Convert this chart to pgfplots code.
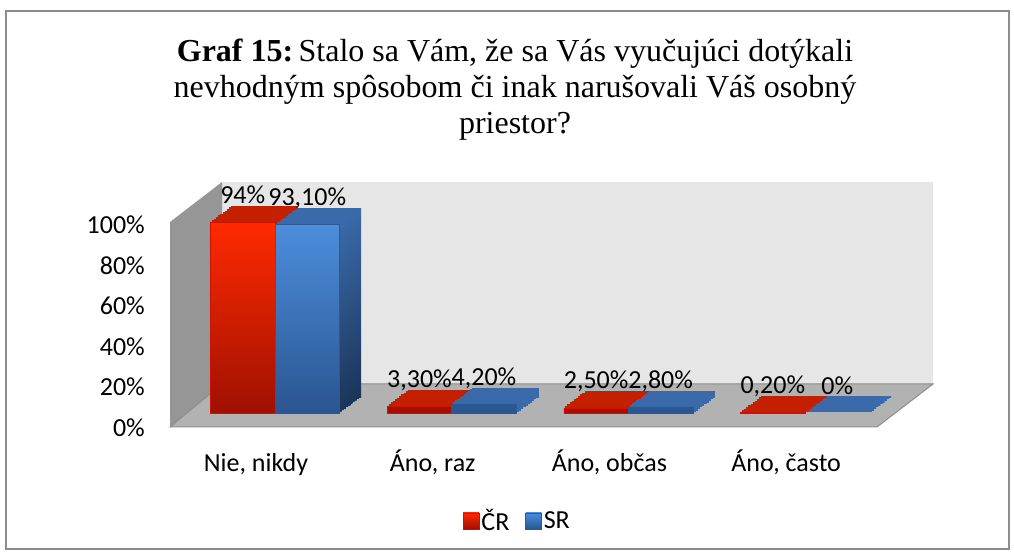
\documentclass[border=0pt]{standalone}
\usepackage{pgfplots}
\pgfplotsset{compat=1.18}
\usepackage{fontspec}
\setmainfont{Carlito}
\newfontfamily\titlefont{Liberation Serif}
\definecolor{redA}{HTML}{FF2A00}
\definecolor{redB}{HTML}{A01000}
\definecolor{redTop}{HTML}{C42000}
\definecolor{redEdge}{HTML}{D01000}
\definecolor{blueA}{HTML}{4C8EDC}
\definecolor{blueB}{HTML}{2A5590}
\definecolor{blueTop}{HTML}{3A6AAA}
\definecolor{blueSideB}{HTML}{1C3458}
\definecolor{blueEdge}{HTML}{2A5A96}
\definecolor{wallBack}{HTML}{E6E6E6}
\definecolor{wallLeft}{HTML}{969696}
\definecolor{floorC}{HTML}{B2B2B2}
\definecolor{edgeC}{HTML}{8C8C8C}
\pgfplotstableread{
x y
0 94
1 3.3
2 2.5
3 0.2
}\datacr
\pgfplotstableread{
x y
0 93.1
1 4.2
2 2.8
3 0
}\datasr
\begin{document}
\begin{tikzpicture}[x=1pt,y=1pt]
\useasboundingbox (0,0) rectangle (1014,554);
\draw[edgeC, line width=1.5pt] (6,543) rectangle (1009,5);
\node[anchor=base, inner sep=0pt, font=\titlefont\fontsize{32}{38}\selectfont] at (515,492) {\textbf{Graf 15:}\,Stalo sa Vám, že sa Vás vyučujúci dotýkali};
\node[anchor=base, inner sep=0pt, font=\titlefont\fontsize{32}{38}\selectfont] at (515,456) {nevhodným spôsobom či inak narušovali Váš osobný};
\node[anchor=base, inner sep=0pt, font=\titlefont\fontsize{32}{38}\selectfont] at (515,420) {priestor?};
% walls
\fill[wallBack] (222,372) rectangle (933,170);
\fill[wallLeft] (170,332) -- (222,372) -- (222,170) -- (170,127) -- cycle;
\filldraw[fill=floorC, draw=edgeC, line width=1pt] (170,127) -- (877,127) -- (933,170) -- (222,170) -- cycle;
% ticks and labels
\begin{axis}[at={(167.65pt,126.5pt)}, anchor=south west, scale only axis,
  width=706.8pt, height=202.5pt, xmin=-0.5, xmax=3.5, ymin=0, ymax=100,
  axis line style={draw=none}, major tick length=0pt,
  ytick={0,20,40,60,80,100}, yticklabels={0\%,20\%,40\%,60\%,80\%,100\%},
  xtick={0,1,2,3}, xticklabels={{Nie, nikdy},{Áno, raz},{Áno, občas},{Áno, často}},
  tick label style={font=\fontsize{26}{30}\selectfont},
  yticklabel style={anchor=east, inner sep=0pt, xshift=-22.65pt},
  xticklabel style={anchor=base, inner sep=0pt, yshift=-43.5pt}]
\addplot[draw=none, forget plot] coordinates {(0,0)};
\end{axis}
% bars
\begin{axis}[at={(186.65pt,141pt)}, anchor=south west, scale only axis,
  width=706.8pt, height=202.5pt, xmin=-0.5, xmax=3.5, ymin=0, ymax=100,
  hide axis, clip=false,
  legend style={at={(0.468,-0.533)}, anchor=center, draw=none, fill=none,
    legend columns=2, font=\fontsize{26}{30}\selectfont,
    /tikz/every even column/.append style={column sep=14pt}},
  legend image code/.code={\draw[#1] (0pt,-8pt) rectangle (16pt,8pt);}]
\pgfplotsinvokeforeach{10,9,...,1}{
  \addplot[ybar, bar width=64.5pt, bar shift=-32.25pt, fill=redTop, draw=redTop,
    line width=1.6pt, xshift=2.15*#1pt, yshift=1.6*#1pt, forget plot] table {\datacr};
  \addplot[ybar, bar width=64.5pt, bar shift=32.25pt, top color=blueTop, bottom color=blueSideB, draw=none,
    xshift=2.15*#1pt, yshift=1.6*#1pt, restrict y to domain=10:1000, forget plot] table {\datasr};
  \addplot[ybar, bar width=64.5pt, bar shift=32.25pt, fill=blueTop, draw=blueTop,
    line width=1.6pt, xshift=2.15*#1pt, yshift=1.6*#1pt, restrict y to domain=-1:10, forget plot] table {\datasr};
}
\addplot[ybar, bar width=64.5pt, bar shift=-32.25pt, top color=redA, bottom color=redB,
  draw=redEdge, line width=0.8pt, restrict y to domain=0.01:1000, forget plot] table {\datacr};
\addplot[ybar, bar width=64.5pt, bar shift=32.25pt, top color=blueA, bottom color=blueB,
  draw=blueEdge, line width=0.8pt, restrict y to domain=0.01:1000, forget plot] table {\datasr};
\addplot[ybar, bar width=64.5pt, bar shift=-32.25pt, draw=none, fill=none, forget plot,
  nodes near coords, point meta=explicit symbolic,
  nodes near coords style={anchor=base, inner sep=0pt, xshift=-32.25pt, yshift=19pt, font=\fontsize{26}{30}\selectfont, text=black}]
  coordinates {(0,94) [94\%] (1,3.3) [3,30\%] (2,2.5) [2,50\%] (3,0.2) [0,20\%]};
\addplot[ybar, bar width=64.5pt, bar shift=32.25pt, draw=none, fill=none, forget plot,
  nodes near coords, point meta=explicit symbolic,
  nodes near coords style={anchor=base, inner sep=0pt, xshift=32.25pt, yshift=19pt, font=\fontsize{26}{30}\selectfont, text=black}]
  coordinates {(0,93.1) [93,10\%] (1,4.2) [4,20\%] (2,2.8) [2,80\%] (3,0) [0\%]};
\addlegendimage{top color=redA, bottom color=redB, draw=redEdge}
\addlegendentry{ČR}
\addlegendimage{top color=blueA, bottom color=blueB, draw=blueEdge}
\addlegendentry{SR}
\end{axis}
\end{tikzpicture}
\end{document}
